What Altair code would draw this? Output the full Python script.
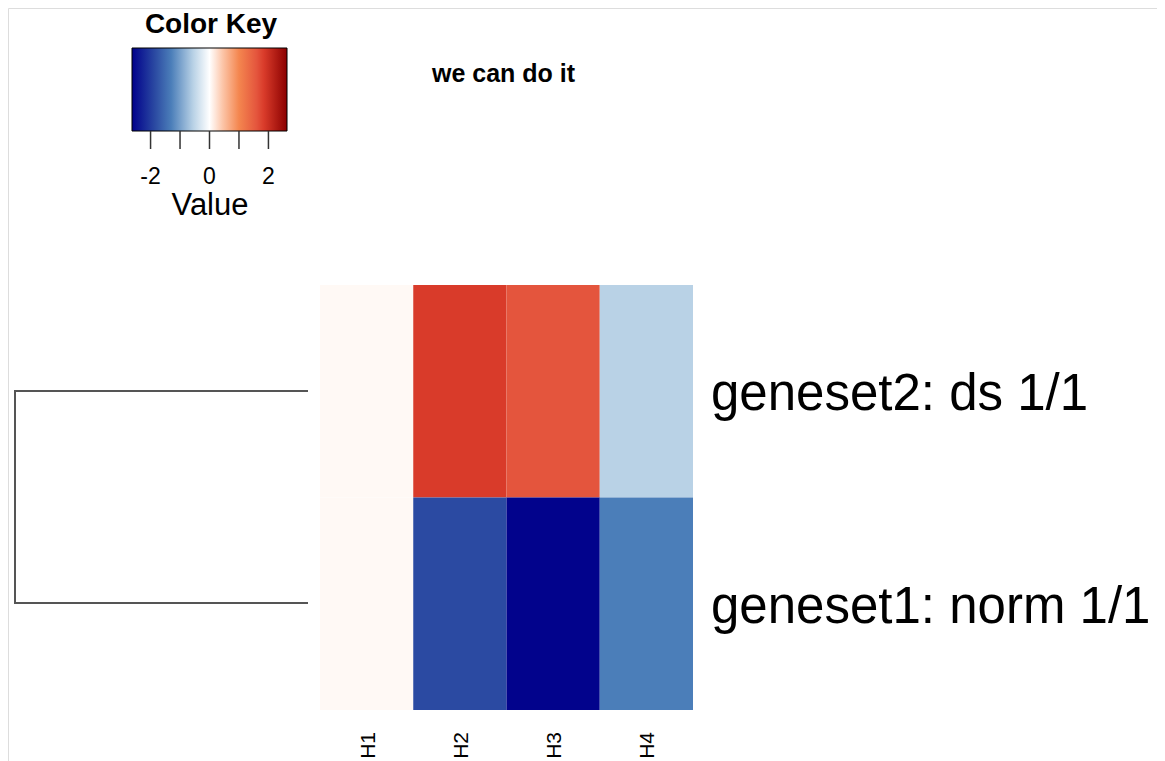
import altair as alt
import pandas as pd

# ---- data ----
cols = ["H1", "H2", "H3", "H4"]
rows = ["geneset2: ds 1/1", "geneset1: norm 1/1"]
vals_geneset2 = [0.05, 1.85, 1.6, -0.55]
vals_geneset1 = [0.05, -1.85, -2.6, -1.3]

stop_vals = [-2.63, -1.85, -1.3, -0.55, 0.0, 0.45, 1.0, 1.6, 1.85, 2.63]
stop_cols = ["#00008b", "#2b4aa2", "#4b7eb9", "#b9d2e6", "#ffffff",
             "#fcc5a8", "#f4864f", "#e4553d", "#d93b2a", "#8b0000"]

key_ticks = [-2, -1, 0, 1, 2]
key_labels = [-2, 0, 2]

dendro_height = [0, 1, 1, 0]
dendro_rows = [rows[0], rows[0], rows[1], rows[1]]

FONT = "Liberation Sans"

heat_df = pd.DataFrame(
    [{"row": rows[0], "col": c, "value": v} for c, v in zip(cols, vals_geneset2)]
    + [{"row": rows[1], "col": c, "value": v} for c, v in zip(cols, vals_geneset1)]
)
col_df = pd.DataFrame({"col": cols})
row_df = pd.DataFrame({"row": rows})
dendro_df = pd.DataFrame({"h": dendro_height, "row": dendro_rows, "step": range(4)})
kmin, kmax = stop_vals[0], stop_vals[-1]
keybox_df = pd.DataFrame({"a": [kmin], "b": [kmax]})
tick_df = pd.DataFrame({"t": key_ticks})
lab_df = pd.DataFrame({"t": key_labels, "s": [str(v) for v in key_labels]})

# ---- scales ----
x_heat = alt.Scale(domain=cols, range=[312, 685], paddingInner=0, paddingOuter=0)
y_heat = alt.Scale(domain=rows, range=[277, 702], paddingInner=0, paddingOuter=0)
x_key = alt.Scale(domain=[kmin, kmax], range=[124, 279], nice=False, zero=False)
color_scale = alt.Scale(domain=stop_vals, range=stop_cols, type="linear", interpolate="rgb")

dendro = alt.Chart(dendro_df).mark_line(color="#555555", strokeWidth=2).encode(
    x=alt.X("h:Q", scale=alt.Scale(domain=[0, 1], range=[300, 7], nice=False, zero=False), axis=None),
    y=alt.Y("row:N", scale=alt.Scale(type="point", domain=rows, range=[383, 595], padding=0), axis=None),
    order="step:Q",
)

heat = alt.Chart(heat_df).mark_rect().encode(
    x=alt.X("col:N", scale=x_heat, axis=None),
    y=alt.Y("row:N", scale=y_heat, axis=None),
    color=alt.Color("value:Q", scale=color_scale, legend=None),
)

col_labels = alt.Chart(col_df).mark_text(
    angle=270, align="right", baseline="middle", fontSize=21, font=FONT, color="black", dy=2
).encode(
    x=alt.X("col:N", scale=x_heat, axis=None),
    y=alt.value(724),
    text="col:N",
)

row_labels = alt.Chart(row_df).mark_text(
    align="left", baseline="alphabetic", fontSize=51, font=FONT, color="black", dy=19
).encode(
    x=alt.value(703),
    y=alt.Y("row:N", scale=y_heat, axis=None),
    text="row:N",
)

span = kmax - kmin
gradient = {
    "gradient": "linear", "x1": 0, "y1": 0, "x2": 1, "y2": 0,
    "stops": [{"offset": (v - kmin) / span, "color": c} for v, c in zip(stop_vals, stop_cols)],
}
keybox = alt.Chart(keybox_df).mark_rect(fill=gradient, stroke="black", strokeWidth=1).encode(
    x=alt.X("a:Q", scale=x_key, axis=None),
    x2="b:Q",
    y=alt.value(40),
    y2=alt.value(123),
)

ticks = alt.Chart(tick_df).mark_rule(color="#333333", strokeWidth=1.5).encode(
    x=alt.X("t:Q", scale=x_key, axis=None),
    y=alt.value(123),
    y2=alt.value(141),
)

key_text = alt.Chart(lab_df).mark_text(
    align="center", baseline="alphabetic", fontSize=23, font=FONT, color="black"
).encode(
    x=alt.X("t:Q", scale=x_key, axis=None),
    y=alt.value(176),
    text="s:N",
)

def label(txt, x, y, size, bold=False, align="center"):
    return alt.Chart(pd.DataFrame({"s": [txt]})).mark_text(
        align=align, baseline="alphabetic", fontSize=size, font=FONT,
        fontWeight="bold" if bold else "normal", color="black"
    ).encode(x=alt.value(x), y=alt.value(y), text="s:N")

title_key = label("Color Key", 203, 25, 28, bold=True)
value_lbl = label("Value", 202, 207, 31)
main_title = label("we can do it", 424, 74, 25, bold=True, align="left")

chart = alt.layer(
    dendro, heat, col_labels, row_labels, keybox, ticks, key_text,
    title_key, value_lbl, main_title
).resolve_scale(
    x="independent", y="independent", color="independent"
).properties(
    width=1149, height=753, autosize=alt.AutoSizeParams(type="none"), padding=0
).configure_view(stroke=None, strokeWidth=0).configure(background="white")

chart.save("out.html", embed_options={"renderer": "svg", "actions": False})
